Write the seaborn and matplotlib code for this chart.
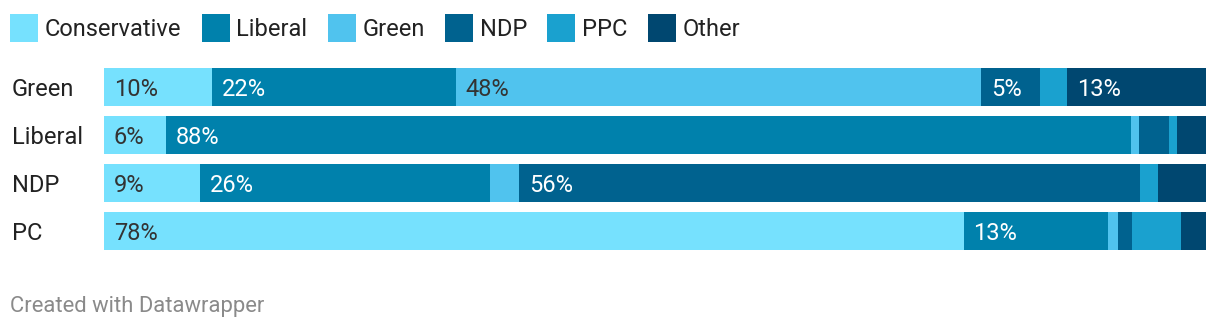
import matplotlib
matplotlib.use("Agg")
import matplotlib.pyplot as plt
from matplotlib.patches import Rectangle
import matplotlib.transforms as mtransforms
import seaborn as sns
import numpy as np
import pandas as pd

rows = ["Green", "Liberal", "NDP", "PC"]
parties = ["Conservative", "Liberal", "Green", "NDP", "PPC", "Other"]
conservative = [9.8, 5.6, 8.7, 78.0]
liberal = [22.1, 87.6, 26.3, 13.1]
green = [47.7, 0.7, 2.7, 0.9]
ndp = [5.3, 2.7, 56.3, 1.3]
ppc = [2.5, 0.8, 1.6, 4.4]
other = [12.6, 2.6, 4.4, 2.3]

colors = ["#76e1fe", "#0081ac", "#50c3ee", "#00628f", "#1aa1cf", "#004770"]
text_colors = ["#333333", "#ffffff", "#333333", "#ffffff", "#ffffff", "#ffffff"]

sns.set_theme(style="white")
plt.rcParams['font.family'] = ['Roboto', 'DejaVu Sans']

FS = 17
W, H = 1220, 330
fig = plt.figure(figsize=(W / 100, H / 100), dpi=100)
ax = fig.add_axes([104 / W, 1 - 255 / H, 1102 / W, 192 / H])

series = [conservative, liberal, green, ndp, ppc, other]
df = pd.DataFrame({p: s for p, s in zip(parties, series)}, index=rows)
cum = df.cumsum(axis=1)
starts = cum - df

# draw from the full stack down to the first segment so each overlays
for p, c in reversed(list(zip(parties, colors))):
    d = pd.DataFrame({"row": rows, "value": cum[p].values})
    sns.barplot(data=d, x="value", y="row", orient="h", color=c,
                width=0.8, saturation=1, ax=ax, linewidth=0)

for j, p in enumerate(parties):
    for i, r in enumerate(rows):
        v = df.loc[r, p]
        if v >= 5:
            ax.text(starts.loc[r, p] + 0.9, i, f"{round(v)}%", ha="left",
                    va="center_baseline", fontsize=FS, color=text_colors[j])

ax.set_xlim(0, 100)
ax.set_ylim(3.5, -0.5)
ax.set_xlabel("")
ax.set_ylabel("")
ax.set_xticks([])
ax.set_yticks([])
for s in ax.spines.values():
    s.set_visible(False)

trans = mtransforms.blended_transform_factory(fig.transFigure, ax.transData)
for i, r in enumerate(rows):
    ax.text(12 / W, i, r, transform=trans, ha="left", va="center_baseline",
            fontsize=FS, color="#222222")

# legend
fig.canvas.draw()
renderer = fig.canvas.get_renderer()
x = 10
for p, c in zip(parties, colors):
    fig.add_artist(Rectangle((x / W, 1 - 42 / H), 28 / W, 28 / H,
                             transform=fig.transFigure, facecolor=c,
                             edgecolor="none"))
    t = fig.text((x + 35) / W, 1 - 27 / H, p, ha="left", va="center_baseline",
                 fontsize=FS, color="#222222")
    bb = t.get_window_extent(renderer=renderer)
    x = bb.x1 + 20

fig.text(10 / W, 1 - 304 / H, "Created with Datawrapper", ha="left",
         va="center_baseline", fontsize=15.8, color="#8a8a8a")

fig.savefig("out.png", dpi=100)
